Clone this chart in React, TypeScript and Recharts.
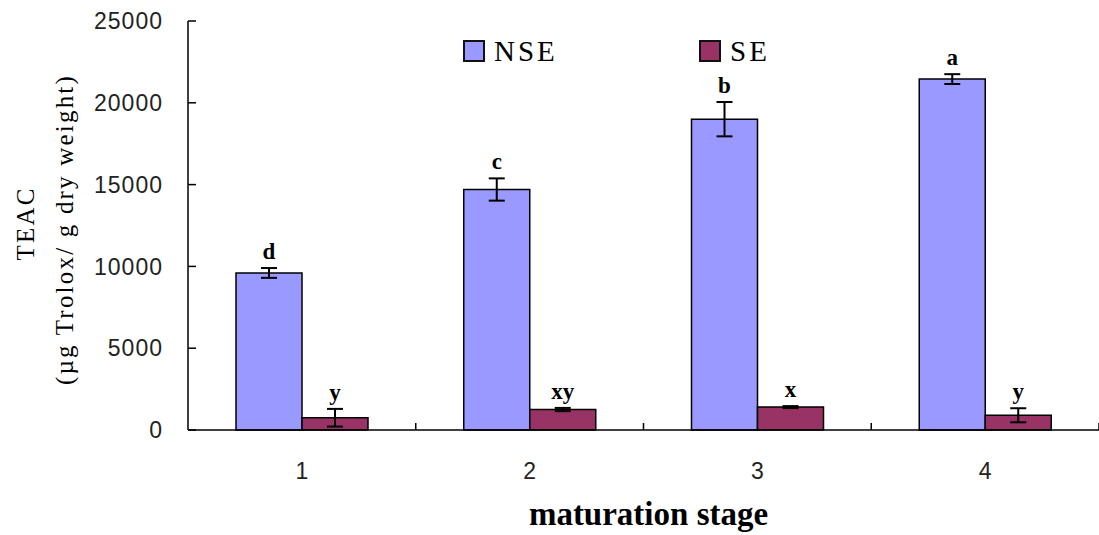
import React from "react";
import {
  BarChart,
  Bar,
  XAxis,
  YAxis,
  ErrorBar,
  LabelList,
  Legend,
} from "recharts";

// Maturation stages on the x axis
const stages = ["1", "2", "3", "4"];

// TEAC (µg Trolox / g dry weight), non-soluble (NSE) and soluble (SE) extracts
const nseValues = [9600, 14700, 19000, 21450];
const nseErrors = [300, 680, 1050, 300];
const nseLetters = ["d", "c", "b", "a"];

const seValues = [750, 1250, 1400, 900];
const seErrors = [540, 100, 60, 430];
const seLetters = ["y", "xy", "x", "y"];

const yTicks = [0, 5000, 10000, 15000, 20000, 25000];

const seriesInfo = [
  { key: "NSE", color: "#9999FF" },
  { key: "SE", color: "#993366" },
];

const data = stages.map((s, i) => ({
  stage: s,
  NSE: nseValues[i],
  nseErr: nseErrors[i],
  nseLetter: nseLetters[i],
  SE: seValues[i],
  seErr: seErrors[i],
  seLetter: seLetters[i],
}));

const serif = "'Liberation Serif', 'Times New Roman', serif";
const sans = "'Liberation Sans', Arial, sans-serif";
const X_TICK_MARGIN = 33;

// Significance letter drawn just above the top of the error bar
const makeLetter = (errKey: string, valueKey: string) => (props: any) => {
  const { x, y, width, height, index, value } = props;
  const row: any = data[index];
  const v = row[valueKey];
  const pxPerUnit = v ? height / v : 0;
  const errTop = y - row[errKey] * pxPerUnit;
  return (
    <text
      x={x + width / 2}
      y={errTop - 9}
      textAnchor="middle"
      fontFamily={serif}
      fontWeight="bold"
      fontSize={23}
      fill="#000"
    >
      {value}
    </text>
  );
};

// Stage number, plus an inward tick mark at the right edge of each stage band
const StageTick = (props: any) => {
  const { x, y, payload } = props;
  const axisY = y - X_TICK_MARGIN;
  const edgeX = x + (payload.offset || 0);
  return (
    <g>
      <line x1={edgeX} y1={axisY} x2={edgeX} y2={axisY - 7} stroke="#000" strokeWidth={1.5} />
      <text
        x={x}
        y={y}
        dy="0.71em"
        textAnchor="middle"
        fontFamily={sans}
        fontSize={23}
        fill="#222"
      >
        {payload.value}
      </text>
    </g>
  );
};

const YLabel = (props: any) => {
  const vb = props.viewBox || { x: 0, y: 21, width: 188, height: 409 };
  const cy = vb.y + vb.height / 2;
  return (
    <g fontFamily={serif} fontSize={25} fill="#000">
      <text
        x={vb.x + 25}
        y={cy - 2}
        transform={`rotate(-90, ${vb.x + 25}, ${cy - 2})`}
        textAnchor="middle"
        dominantBaseline="central"
        letterSpacing={2.2}
      >
        TEAC
      </text>
      <text
        x={vb.x + 64}
        y={cy + 4}
        transform={`rotate(-90, ${vb.x + 64}, ${cy + 4})`}
        textAnchor="middle"
        dominantBaseline="central"
        letterSpacing={2.2}
      >
        (µg Trolox/ g dry weight)
      </text>
    </g>
  );
};

const XLabel = (props: any) => {
  const vb = props.viewBox || { x: 188, y: 430, width: 911, height: 105 };
  return (
    <text
      x={vb.x + vb.width / 2 + 5}
      y={525}
      textAnchor="middle"
      fontFamily={serif}
      fontWeight="bold"
      fontSize={33}
      fill="#000"
    >
      maturation stage
    </text>
  );
};

const LegendContent = () => (
  <div style={{ position: "relative", width: 320, height: 30 }}>
    {seriesInfo.map((s, i) => (
      <div
        key={s.key}
        style={{
          position: "absolute",
          left: i * 236,
          top: 0,
          display: "flex",
          alignItems: "center",
          height: 30,
        }}
      >
        <span
          style={{
            display: "inline-block",
            width: 18,
            height: 18,
            background: s.color,
            border: "2px solid #111",
          }}
        />
        <span
          style={{
            fontFamily: serif,
            fontSize: 29,
            letterSpacing: 3,
            marginLeft: 9,
            lineHeight: "30px",
            color: "#000",
          }}
        >
          {s.key}
        </span>
      </div>
    ))}
  </div>
);

export default function App() {
  return (
    <div style={{ position: "absolute", left: 0, top: 0 }}>
      <BarChart
        width={1099}
        height={535}
        data={data}
        margin={{ top: 21, right: 0, bottom: 0, left: 0 }}
        barGap={0}
        barSize={66}
      >
        <XAxis
          dataKey="stage"
          height={105}
          axisLine={{ stroke: "#000", strokeWidth: 1.5 }}
          tickLine={false}
          tickSize={0}
          tickMargin={X_TICK_MARGIN}
          tick={<StageTick />}
          label={<XLabel />}
        />
        <YAxis
          width={188}
          domain={[0, 25000]}
          ticks={yTicks}
          interval={0}
          axisLine={{ stroke: "#000", strokeWidth: 1.5 }}
          tickLine={{ stroke: "#000", strokeWidth: 1.5 }}
          tickSize={-8}
          tickMargin={33}
          tick={{ fontFamily: sans, fontSize: 23, fill: "#222", letterSpacing: 1 }}
          label={<YLabel />}
        />
        <Legend
          layout="horizontal"
          verticalAlign="middle"
          align="center"
          wrapperStyle={{ top: 36, left: 463, width: 340 }}
          content={<LegendContent />}
        />
        <Bar
          dataKey="NSE"
          fill={seriesInfo[0].color}
          stroke="#000"
          strokeWidth={1.5}
          isAnimationActive={false}
        >
          <ErrorBar dataKey="nseErr" width={8} stroke="#000" strokeWidth={2} />
          <LabelList dataKey="nseLetter" content={makeLetter("nseErr", "NSE")} />
        </Bar>
        <Bar
          dataKey="SE"
          fill={seriesInfo[1].color}
          stroke="#000"
          strokeWidth={1.5}
          isAnimationActive={false}
        >
          <ErrorBar dataKey="seErr" width={8} stroke="#000" strokeWidth={2} />
          <LabelList dataKey="seLetter" content={makeLetter("seErr", "SE")} />
        </Bar>
      </BarChart>
    </div>
  );
}
